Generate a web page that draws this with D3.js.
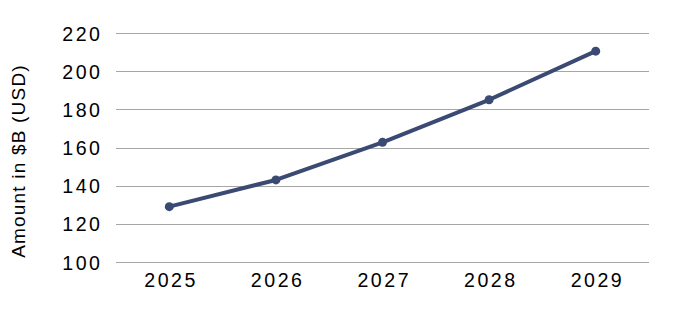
<!DOCTYPE html>
<html>
<head>
<script src="https://d3js.org/d3.v7.min.js"></script>
<style>
  body { margin: 0; background: #fff; }
  text { font-family: "Liberation Sans", Arial, sans-serif; fill: #000; }
</style>
</head>
<body>
<svg width="673" height="309"></svg>
<script>
var years = ["2025", "2026", "2027", "2028", "2029"];
var amounts = [129, 143, 162.7, 185, 210.5];
var yTicks = [100, 120, 140, 160, 180, 200, 220];

var svg = d3.select("svg"),
    margin = {top: 33, right: 24, bottom: 47, left: 116},
    width = 673 - margin.left - margin.right,
    height = 309 - margin.top - margin.bottom;

var g = svg.append("g").attr("transform", "translate(" + margin.left + "," + margin.top + ")");

var x = d3.scalePoint().domain(years).range([0, width]).padding(0.5);
var y = d3.scaleLinear().domain([100, 220]).range([height, 0]);

var tickFont = "19.6px", spacing = 2.5;

// gridlines
g.selectAll(".grid")
  .data(yTicks)
  .enter().append("line")
  .attr("x1", 0).attr("x2", width)
  .attr("y1", function(d) { return Math.round(y(d)) + 0.5; })
  .attr("y2", function(d) { return Math.round(y(d)) + 0.5; })
  .attr("stroke", "#a6a6a6").attr("stroke-width", 1);

var yAxis = g.append("g")
  .call(d3.axisLeft(y).tickValues(yTicks).tickSize(0).tickPadding(16 - spacing));
yAxis.select(".domain").remove();
yAxis.selectAll("text")
  .style("font-size", tickFont)
  .style("letter-spacing", spacing + "px")
  .attr("dy", "0.36em");

var xAxis = g.append("g")
  .attr("transform", "translate(0," + height + ")")
  .call(d3.axisBottom(x).tickSize(0).tickPadding(11.5));
xAxis.select(".domain").remove();
xAxis.selectAll("text")
  .style("font-size", tickFont)
  .style("letter-spacing", spacing + "px")
  .attr("dx", spacing / 2);

svg.append("text")
  .attr("transform", "translate(25,161) rotate(-90)")
  .attr("text-anchor", "middle")
  .style("font-size", "19px")
  .style("letter-spacing", "1.2px")
  .text("Amount in $B (USD)");

var line = d3.line()
  .x(function(d, i) { return x(years[i]); })
  .y(function(d) { return y(d); });

g.append("path")
  .datum(amounts)
  .attr("fill", "none")
  .attr("stroke", "#3b4a72")
  .attr("stroke-width", 4)
  .attr("stroke-linejoin", "round")
  .attr("d", line);

g.selectAll(".dot")
  .data(amounts)
  .enter().append("circle")
  .attr("cx", function(d, i) { return x(years[i]); })
  .attr("cy", function(d) { return y(d); })
  .attr("r", 4.5)
  .attr("fill", "#3b4a72");
</script>
</body>
</html>
